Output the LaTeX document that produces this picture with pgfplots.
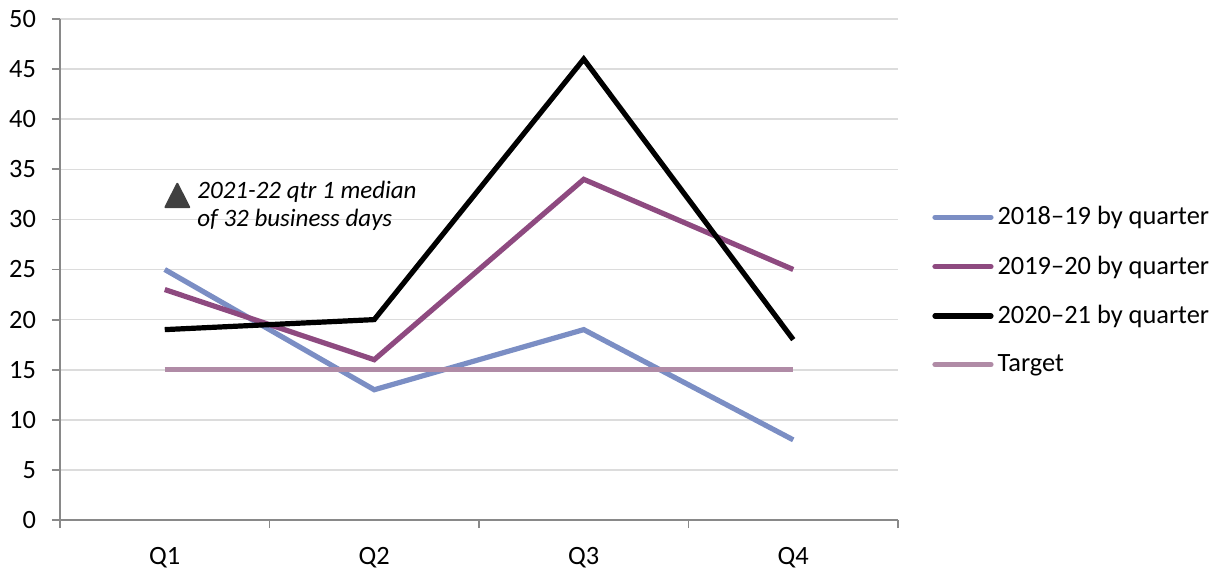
\documentclass[border=0pt]{standalone}
\usepackage{pgfplots}
\pgfplotsset{compat=1.18}
\usetikzlibrary{plotmarks}
\usepackage{fontspec}
\setmainfont{Carlito}
\definecolor{s1819}{HTML}{7B8EC4}
\definecolor{s1920}{HTML}{8E4A80}
\definecolor{target}{HTML}{B08BA6}
\definecolor{axisgray}{HTML}{898989}
\definecolor{gridgray}{HTML}{DCDCDC}
\definecolor{markgray}{HTML}{404040}
\begin{document}
\begin{tikzpicture}
  \begin{axis}[
    scale only axis,
    width=419pt, height=250.5pt,
    xmin=-0.5, xmax=3.5,
    ymin=0, ymax=50,
    ytick={0,5,...,50},
    xtick={0,1,2,3},
    xticklabels={Q1,Q2,Q3,Q4},
    minor xtick={-0.5,0.5,1.5,2.5,3.5},
    major x tick style={draw=none},
    tick align=outside,
    major tick length=4pt,
    minor tick length=4pt,
    tick style={axisgray, line width=0.9pt},
    axis x line*=bottom,
    axis y line*=left,
    axis line style={axisgray, line width=0.9pt, -},
    ymajorgrids,
    grid style={gridgray, line width=0.8pt},
    /pgf/number format/assume math mode=true,
    tick label style={font=\fontsize{13.2}{15}\selectfont},
    yticklabel style={xshift=-4.5pt},
    xticklabel style={yshift=-6pt},
    clip=false,
    legend style={draw=none, fill=none, at={(1,0.458)}, anchor=west,
      xshift=14pt, font=\fontsize{13.2}{15}\selectfont, row sep=10pt,
      /tikz/every odd column/.style={column sep=0pt}},
    legend cell align=left,
    legend image code/.code={\draw[#1, line cap=round] (0pt,0pt) -- (28pt,0pt);},
    series/.style={line width=2.6pt, mark=none},
  ]
    \addplot[s1819, series] coordinates {(0,25) (1,13) (2,19) (3,8)};
    \addplot[s1920, series] coordinates {(0,23) (1,16) (2,34) (3,25)};
    \addplot[black, series] coordinates {(0,19) (1,20) (2,46) (3,18)};
    \addplot[target, series] coordinates {(0,15) (1,15) (2,15) (3,15)};
    \legend{2018--19 by quarter, 2019--20 by quarter, 2020--21 by quarter, Target}
    \addplot[forget plot, only marks, mark=triangle*, mark size=7.8pt,
      mark options={solid, fill=markgray, draw=markgray, line join=round, line width=1pt, xscale=0.88}]
      coordinates {(0.06,32)};
    \node[anchor=north west, align=left, inner sep=0pt,
      font=\fontsize{12.5}{14.2}\selectfont\itshape] at (axis cs:0.154,33.9)
      {2021-22 qtr 1 median\\of 32 business days};
    \path (rel axis cs:0,0) ++(-30pt,-24.5pt) rectangle ++(611.5pt,284.5pt);
  \end{axis}
\end{tikzpicture}
\end{document}
